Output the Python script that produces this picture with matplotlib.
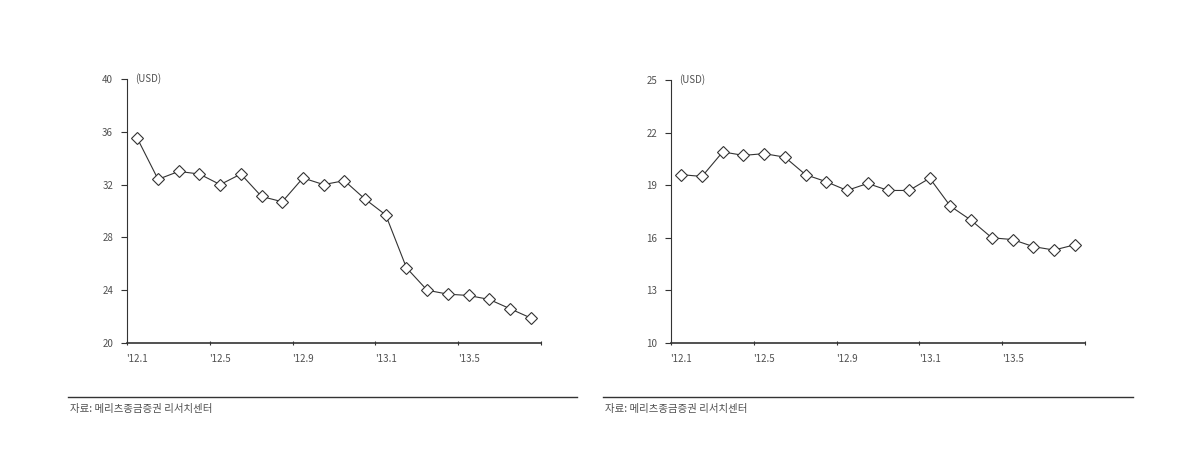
import matplotlib
matplotlib.use("Agg")
import matplotlib.pyplot as plt
from matplotlib.lines import Line2D

plt.rcParams['font.family'] = ['Noto Sans CJK KR', 'DejaVu Sans']

months = ["'12.1", "'12.2", "'12.3", "'12.4", "'12.5", "'12.6", "'12.7", "'12.8",
          "'12.9", "'12.10", "'12.11", "'12.12", "'13.1", "'13.2", "'13.3", "'13.4",
          "'13.5", "'13.6", "'13.7", "'13.8"]
left_values = [35.5, 32.4, 33.0, 32.8, 32.0, 32.8, 31.1, 30.7, 32.5, 32.0,
               32.3, 30.9, 29.7, 25.7, 24.0, 23.7, 23.6, 23.3, 22.6, 21.9]
right_values = [19.6, 19.5, 20.9, 20.7, 20.8, 20.6, 19.6, 19.2, 18.7, 19.1,
                18.7, 18.7, 19.4, 17.8, 17.0, 16.0, 15.9, 15.5, 15.3, 15.6]
left_yticks = [20, 24, 28, 32, 36, 40]
right_yticks = [10, 13, 16, 19, 22, 25]
unit_label = "(USD)"
source_text = "자료: 메리츠종금증권 리서치센터"

fig = plt.figure(figsize=(11.86, 4.69), dpi=100)
W, H = 1186, 469
TXT = '#505050'
LN = '#333333'

def make_panel(rect, values, yticks):
    ax = fig.add_axes(rect)
    x = list(range(1, len(values) + 1))
    ax.plot(x, values, color=LN, lw=0.8, marker='D', markersize=6.5,
            markerfacecolor='white', markeredgecolor=LN, markeredgewidth=0.8)
    ax.set_xlim(0.5, len(values) + 0.5)
    ax.set_ylim(yticks[0], yticks[-1])
    ax.set_yticks(yticks)
    ax.set_yticklabels([str(t) for t in yticks], fontsize=7, color=TXT)
    ax.set_xticks([0.5 + i for i in range(0, len(values) + 1, 4)])
    ax.set_xticklabels([])
    ax.set_xticks(x[::4], minor=True)
    ax.set_xticklabels(months[::4], minor=True, fontsize=7, color=TXT)
    ax.tick_params(axis='x', which='minor', length=0, pad=8)
    ax.tick_params(axis='x', which='major', length=3, direction='inout', color=LN)
    ax.tick_params(axis='y', length=4, direction='out', color=LN, pad=6)
    for s in ['top', 'right']:
        ax.spines[s].set_visible(False)
    ax.spines['left'].set_color(LN)
    ax.spines['bottom'].set_color(LN)
    ax.spines['left'].set_linewidth(0.8)
    ax.spines['bottom'].set_linewidth(1.2)
    ax.text(0.02, 1.0, unit_label, transform=ax.transAxes, fontsize=7,
            color=TXT, va='center', ha='left')
    return ax

make_panel([127 / W, 1 - 343 / H, 414 / W, 264 / H], left_values, left_yticks)
make_panel([671 / W, 1 - 343 / H, 414 / W, 263 / H], right_values, right_yticks)

for x0, x1, tx in [(68, 577, 70), (603, 1133, 605)]:
    fig.add_artist(Line2D([x0 / W, x1 / W], [1 - 397 / H, 1 - 397 / H],
                          color=LN, lw=1.0, transform=fig.transFigure))
    fig.text(tx / W, 1 - 409 / H, source_text, fontsize=7.5, color=TXT,
             va='center', ha='left')

fig.savefig('out.png', dpi=100)
